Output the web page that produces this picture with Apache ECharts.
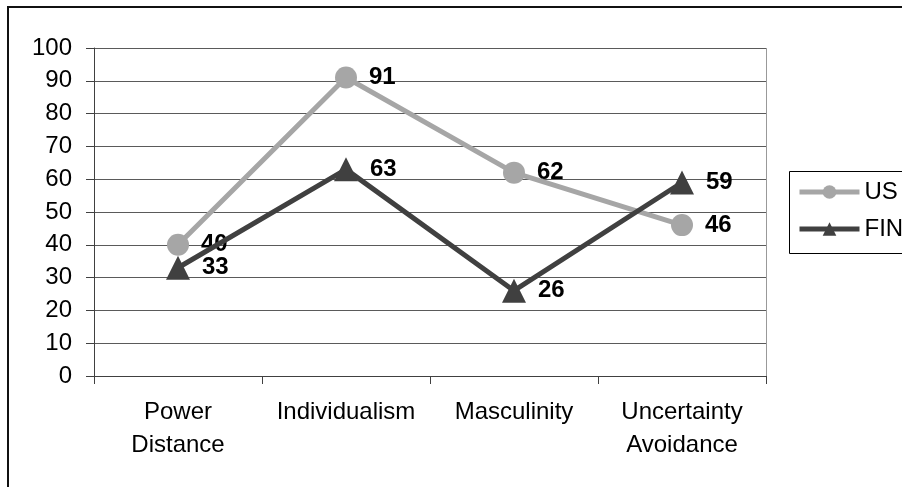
<!DOCTYPE html>
<html>
<head>
<meta charset="utf-8">
<script src="https://cdn.jsdelivr.net/npm/echarts@6/dist/echarts.min.js"></script>
<style>html,body{margin:0;padding:0;background:#fff}#c{width:902px;height:487px}</style>
</head>
<body>
<div id="c"></div>
<script>
const categories = ['Power\nDistance', 'Individualism', 'Masculinity', 'Uncertainty\nAvoidance'];
const usValues = [40, 91, 62, 46];
const finValues = [33, 63, 26, 59];
const seriesNames = ['US', 'FIN'];

const chart = echarts.init(document.getElementById('c'), null, {renderer: 'canvas'});
const font = 'Arial, "Liberation Sans", sans-serif';
const labelStyle = {show: true, position: 'right', distance: 12, color: '#000', fontWeight: 'bold', fontSize: 24, fontFamily: font};
chart.setOption({
  animation: false,
  backgroundColor: '#fff',
  textStyle: {fontFamily: font},
  graphic: [
    {type: 'rect', shape: {x: 8, y: 7, width: 1000, height: 600}, style: {fill: 'none', stroke: '#111', lineWidth: 2}, z: 0, silent: true},
    {type: 'rect', shape: {x: 789.5, y: 171.5, width: 200, height: 82}, style: {fill: '#fff', stroke: '#000', lineWidth: 1}, z: 1, silent: true},
    {type: 'line', shape: {x1: 766.5, y1: 48, x2: 766.5, y2: 376}, style: {stroke: '#999', lineWidth: 1}, z: 1, silent: true}
  ],
  grid: {left: 94, right: 136, top: 48, bottom: 111, containLabel: false},
  legend: {
    data: seriesNames,
    orient: 'vertical',
    left: 797, top: 180,
    itemWidth: 60, itemHeight: 17, itemGap: 13,
    padding: 0,
    lineStyle: {width: 5},
    textStyle: {fontSize: 24, color: '#000', fontFamily: font},
    z: 5
  },
  xAxis: {
    type: 'category',
    data: categories,
    boundaryGap: true,
    axisLine: {show: true, lineStyle: {color: '#404040', width: 1}},
    axisTick: {show: true, length: 8, inside: false, lineStyle: {color: '#404040'}},
    axisLabel: {fontSize: 24, color: '#000', fontFamily: font, margin: 20, lineHeight: 33, interval: 0},
    splitLine: {show: false}
  },
  yAxis: {
    type: 'value',
    min: 0, max: 100, interval: 10,
    axisLine: {show: true, lineStyle: {color: '#404040', width: 1}},
    axisTick: {show: true, length: 8, lineStyle: {color: '#404040'}},
    axisLabel: {fontSize: 24, color: '#000', fontFamily: font, margin: 22},
    splitLine: {show: true, lineStyle: {color: '#5a5a5a', width: 1}}
  },
  series: [
    {
      name: 'US', type: 'line', data: usValues,
      symbol: 'circle', symbolSize: 22,
      lineStyle: {color: '#a6a6a6', width: 5},
      itemStyle: {color: '#a6a6a6'},
      label: labelStyle, z: 3
    },
    {
      name: 'FIN', type: 'line', data: finValues,
      symbol: 'triangle', symbolSize: [24, 24],
      lineStyle: {color: '#404040', width: 5},
      itemStyle: {color: '#404040'},
      label: labelStyle, z: 4
    }
  ]
});
</script>
</body>
</html>
